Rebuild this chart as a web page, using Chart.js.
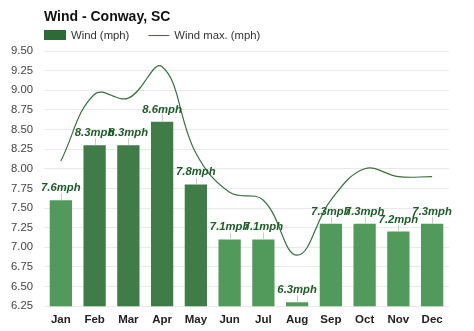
<!DOCTYPE html>
<html>
<head>
<meta charset="utf-8">
<script src="https://cdn.jsdelivr.net/npm/chart.js@4.4.1/dist/chart.umd.min.js"></script>
<style>
  html, body { margin: 0; padding: 0; background: #fff; }
  #wrap { width: 474px; height: 331px; }
</style>
</head>
<body>
<div id="wrap"><canvas id="windChart" width="474" height="331"></canvas></div>
<script>
const months = ["Jan", "Feb", "Mar", "Apr", "May", "Jun", "Jul", "Aug", "Sep", "Oct", "Nov", "Dec"];
const windAvg = [7.6, 8.3, 8.3, 8.6, 7.8, 7.1, 7.1, 6.3, 7.3, 7.3, 7.2, 7.3];
const windMax = [8.1, 8.95, 8.9, 9.3, 8.2, 7.7, 7.6, 6.9, 7.6, 8.0, 7.9, 7.9];
const barColors = ["#519a5b", "#3f7c47", "#3f7c47", "#3f7c47", "#3f7c47", "#519a5b",
  "#519a5b", "#519a5b", "#519a5b", "#519a5b", "#519a5b", "#519a5b"];
const chartTitle = "Wind - Conway, SC";
const FONT = "'Liberation Sans', Arial, sans-serif";

// title + legend drawn by hand so they line up with the plot's left edge
const header = {
  id: "header",
  afterDraw(chart) {
    const ctx = chart.ctx;
    const x0 = chart.chartArea.left;
    const ds = chart.data.datasets;
    ctx.save();
    ctx.fillStyle = "#111";
    ctx.font = "bold 14px " + FONT;
    ctx.textBaseline = "alphabetic";
    ctx.fillText(chartTitle, x0, 21);

    ctx.font = "11.3px " + FONT;
    ctx.textBaseline = "middle";
    // bar entry
    ctx.fillStyle = "#2d6b35";
    ctx.fillRect(x0, 30, 22, 10);
    ctx.fillStyle = "#333";
    ctx.fillText(ds[1].label, x0 + 27, 35.5);
    // line entry
    let lx = x0 + 27 + ctx.measureText(ds[1].label).width + 19;
    ctx.strokeStyle = "#3b7041";
    ctx.lineWidth = 1;
    ctx.beginPath();
    ctx.moveTo(lx, 35.5);
    ctx.lineTo(lx + 21, 35.5);
    ctx.stroke();
    ctx.fillText(ds[0].label, lx + 26, 35.5);
    ctx.restore();
  }
};

// value labels above each bar, with a little tick
const valueLabels = {
  id: "valueLabels",
  afterDatasetsDraw(chart) {
    const ctx = chart.ctx;
    const meta = chart.getDatasetMeta(1);
    ctx.save();
    meta.data.forEach((bar, i) => {
      ctx.strokeStyle = "#cccccc";
      ctx.lineWidth = 1;
      ctx.beginPath();
      ctx.moveTo(Math.round(bar.x) + 0.5, bar.y);
      ctx.lineTo(Math.round(bar.x) + 0.5, bar.y - 7);
      ctx.stroke();
      ctx.fillStyle = "#1f5a29";
      ctx.font = "italic bold 11.3px " + FONT;
      ctx.textAlign = "center";
      ctx.textBaseline = "alphabetic";
      ctx.fillText(windAvg[i] + "mph", bar.x, bar.y - 9);
    });
    ctx.restore();
  }
};

new Chart(document.getElementById("windChart"), {
  data: {
    labels: months,
    datasets: [
      {
        type: "line",
        label: "Wind max. (mph)",
        data: windMax,
        borderColor: "#3b7041",
        borderWidth: 1.2,
        pointRadius: 0,
        tension: 0.4,
        order: 0
      },
      {
        type: "bar",
        label: "Wind (mph)",
        data: windAvg,
        backgroundColor: barColors,
        categoryPercentage: 1,
        barPercentage: 0.66,
        order: 1
      }
    ]
  },
  options: {
    responsive: false,
    animation: false,
    layout: { padding: { left: 0, right: 25, top: 51, bottom: -3 } },
    plugins: {
      title: { display: false },
      legend: { display: false },
      tooltip: { enabled: false }
    },
    scales: {
      x: {
        grid: { display: false, drawTicks: false },
        border: { display: false },
        ticks: {
          color: "#222",
          padding: 7,
          font: { family: FONT, size: 11.5, weight: "bold" }
        }
      },
      y: {
        min: 6.25,
        max: 9.5,
        grid: { color: "#e9e9e9", drawTicks: false },
        border: { display: false },
        ticks: {
          stepSize: 0.25,
          color: "#444",
          padding: 11,
          font: { family: FONT, size: 11.3 },
          callback: v => v.toFixed(2)
        }
      }
    }
  },
  plugins: [valueLabels, header]
});
</script>
</body>
</html>
